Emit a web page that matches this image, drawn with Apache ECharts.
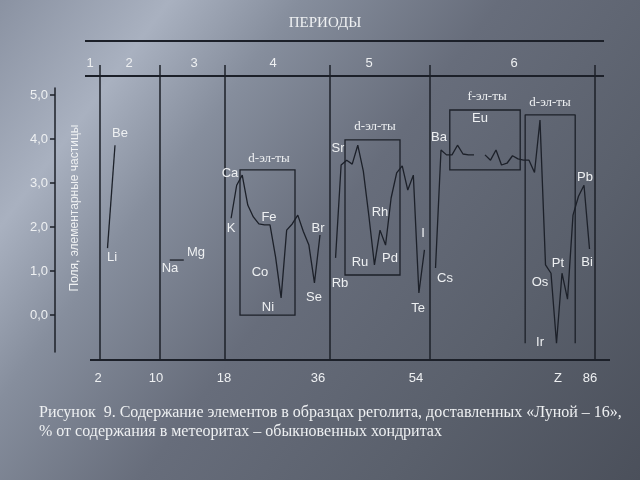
<!DOCTYPE html>
<html><head><meta charset="utf-8">
<script src="https://cdn.jsdelivr.net/npm/echarts@6/dist/echarts.min.js"></script>
<style>html,body{margin:0;padding:0;background:#5f6572}#c{width:640px;height:480px}</style>
</head><body><div id="c"></div>
<script>
// ---- data ----
const yTicks = [0, 1, 2, 3, 4, 5];
const periodLabels = ['1', '2', '3', '4', '5', '6'];
const zLabels = ['2', '10', '18', '36', '54', 'Z', '86'];

const p2Sym = ['Li', 'Be'];
const p2Z = [3, 4];
const p2Val = [1.52, 3.86];

const p3Sym = ['Na', 'Mg'];
const p3Z = [11, 12];
const p3Val = [1.25, 1.25];

const p4Sym = ['K','Ca','Sc','Ti','V','Cr','Mn','Fe','Co','Ni','Cu','Zn','Ga','Ge','As','Se','Br'];
const p4Z = [19,20,21,22,23,24,25,26,27,28,29,30,31,32,33,34,35];
const p4Val = [2.20,2.95,3.18,2.50,2.23,2.07,2.05,2.05,1.32,0.39,1.93,2.07,2.27,1.90,1.59,0.73,1.82];

const p5Sym = ['Rb','Sr','Y','Zr','Nb','Mo','Tc','Ru','Rh','Pd','Ag','Cd','In','Sn','Sb','Te','I'];
const p5Z = [37,38,39,40,41,42,43,44,45,46,47,48,49,50,51,52,53];
const p5Val = [1.30,3.41,3.52,3.43,3.86,3.27,2.25,1.14,1.93,1.59,2.66,3.23,3.39,2.84,3.18,0.50,1.48];

const p6Sym = ['Cs','Ba','La','Ce','Pr','Nd','Pm','Sm','Eu','Gd','Tb','Dy','Ho','Er','Tm','Yb','Lu','Hf','Ta','W','Re','Os','Ir','Pt','Au','Hg','Tl','Pb','Bi'];
const p6Z = [55,56,57,58,59,60,61,62,63,64,65,66,67,68,69,70,71,72,73,74,75,76,77,78,79,80,81,82,83];
const p6Val = [1.07,3.75,3.64,3.64,3.86,3.66,3.64,3.64,null,3.64,3.52,3.75,3.41,3.45,3.62,3.55,3.52,3.52,3.24,4.43,1.14,0.95,-0.64,0.95,0.36,2.27,2.70,2.95,1.50];

// element-group boxes (Z range, value range)
const dBox4 = { z: [20.6, 30.5], v: [0, 3.30] };
const dBox5 = { z: [38.7, 48.6], v: [0.91, 3.98] };
const fBox6 = { z: [57.6, 70.4], v: [3.30, 4.66] };
const dBox6 = { z: [71.3, 80.4], v: [-0.64, 4.55] };

// ---- layout ----
const LINE = '#1c2029';
const TXT = '#eef0f2';
const SANS = 'Liberation Sans, Arial, sans-serif';
const SERIF = 'Liberation Serif, Times New Roman, serif';
const Y_MIN = -0.84, Y_MAX = 5.16;
const periods = [
  { left: 100, width: 60, min: 2, max: 10, z: p2Z, v: p2Val },
  { left: 160, width: 65, min: 10.3, max: 14.95, z: p3Z, v: p3Val },
  { left: 225, width: 105, min: 17.9, max: 36.8, z: p4Z, v: p4Val },
  { left: 330, width: 100, min: 36, max: 54, z: p5Z, v: p5Val },
  { left: 430, width: 165, min: 54, max: 84, z: p6Z, v: p6Val }
];

const grids = [{ left: 55, top: 88, width: 30, height: 264 }];
const xAxes = [{ gridIndex: 0, type: 'value', show: false, min: 0, max: 1 }];
const yAxes = [{
  gridIndex: 0, type: 'value', min: Y_MIN, max: Y_MAX, position: 'left',
  axisLine: { show: true, lineStyle: { color: LINE, width: 1.5 } },
  axisTick: { show: true, customValues: yTicks, length: 5, lineStyle: { color: LINE, width: 1.5 } },
  axisLabel: { customValues: yTicks, color: TXT, fontSize: 13, fontFamily: SANS, margin: 7,
    formatter: v => v.toFixed(1).replace('.', ',') },
  splitLine: { show: false }
}];
const series = [];

function zip(z, v) { return z.map((x, i) => [x, v[i]]); }
function area(b) {
  return [{ coord: [b.z[0], b.v[1]] }, { coord: [b.z[1], b.v[0]] }];
}

periods.forEach((p, i) => {
  const gi = i + 1;
  grids.push({ left: p.left, top: 88, width: p.width, height: 264 });
  xAxes.push({ gridIndex: gi, type: 'value', min: p.min, max: p.max, show: false });
  yAxes.push({ gridIndex: gi, type: 'value', min: Y_MIN, max: Y_MAX, show: false });
  series.push({
    type: 'line', xAxisIndex: gi, yAxisIndex: gi, data: zip(p.z, p.v),
    symbol: 'none', showSymbol: false, connectNulls: false, clip: false, silent: true,
    lineStyle: { color: LINE, width: 1.3 }
  });
});

const boxStyle = { color: 'rgba(0,0,0,0)', borderColor: LINE, borderWidth: 1.3 };
series[2].markArea = { silent: true, itemStyle: boxStyle, label: { show: false }, data: [area(dBox4)] };
series[3].markArea = { silent: true, itemStyle: boxStyle, label: { show: false }, data: [area(dBox5)] };
series[4].markArea = { silent: true, itemStyle: boxStyle, label: { show: false }, data: [area(fBox6)] };
// open d-box of period 6 (no bottom edge)
series.push({
  type: 'line', xAxisIndex: 5, yAxisIndex: 5, symbol: 'none', clip: false, silent: true,
  lineStyle: { color: LINE, width: 1.3 },
  data: [[dBox6.z[0], dBox6.v[0]], [dBox6.z[0], dBox6.v[1]], [dBox6.z[1], dBox6.v[1]], [dBox6.z[1], dBox6.v[0]]]
});

// ---- decorations ----
const g = [];
function hline(x1, x2, y, w) { g.push({ type: 'line', shape: { x1, y1: y, x2, y2: y }, style: { stroke: LINE, lineWidth: w } }); }
function vline(x, y1, y2, w) { g.push({ type: 'line', shape: { x1: x, y1, x2: x, y2 }, style: { stroke: LINE, lineWidth: w } }); }
function txt(text, x, y, size, font, align, rot) {
  g.push({ type: 'text', x, y, rotation: rot || 0,
    style: { text, fill: TXT, fontSize: size, fontFamily: font, textAlign: align || 'center', textVerticalAlign: 'middle' } });
}
hline(85, 604, 41, 2);
hline(85, 604, 76, 2);
hline(90, 610, 360, 2.2);
[100, 160, 225, 330, 430, 595].forEach(x => vline(x, 65, 360, 1.5));

txt('ПЕРИОДЫ', 325, 23, 15, SERIF);
[90, 129, 194, 273, 369, 514].forEach((x, i) => txt(periodLabels[i], x, 63, 13, SANS));
[98, 156, 224, 318, 416, 558, 590].forEach((x, i) => txt(zLabels[i], x, 378, 13, SANS));
txt('Поля, элементарные частицы', 75, 208, 12, SANS, 'center', Math.PI / 2);

txt('d-эл-ты', 269, 159, 13, SERIF);
txt('d-эл-ты', 375, 127, 13, SERIF);
txt('f-эл-ты', 487, 97, 13, SERIF);
txt('d-эл-ты', 550, 103, 13, SERIF);

const elemLabels = [
  ['Be',120,133],['Li',112,257],['Na',170,268],['Mg',196,252],['Ca',230,173],['K',231,228],
  ['Fe',269,217],['Co',260,272],['Ni',268,307],['Br',318,228],['Se',314,297],
  ['Sr',338,148],['Rb',340,283],['Rh',380,212],['Ru',360,262],['Pd',390,258],['I',423,233],['Te',418,308],
  ['Ba',439,137],['Cs',445,278],['Eu',480,118],['Pb',585,177],['Bi',587,262],['Pt',558,263],['Os',540,282],['Ir',540,342]
];
elemLabels.forEach(e => txt(e[0], e[1], e[2], 13, SANS));

txt('Рисунок  9. Содержание элементов в образцах реголита, доставленных «Луной – 16»,', 39, 413, 16, SERIF, 'left');
txt('% от содержания в метеоритах – обыкновенных хондритах', 39, 432, 16, SERIF, 'left');

const chart = echarts.init(document.getElementById('c'), null, { renderer: 'canvas' });
chart.setOption({
  animation: false,
  backgroundColor: {
    type: 'linear', x: 0, y: 0, x2: 1, y2: 1,
    colorStops: [
      { offset: 0, color: '#8a92a2' },
      { offset: 0.17, color: '#a9b1c0' },
      { offset: 0.3, color: '#868e9d' },
      { offset: 0.5, color: '#676d7b' },
      { offset: 0.75, color: '#5a606c' },
      { offset: 1, color: '#4b505b' }
    ]
  },
  grid: grids, xAxis: xAxes, yAxis: yAxes, series: series, graphic: g
});
</script></body></html>
